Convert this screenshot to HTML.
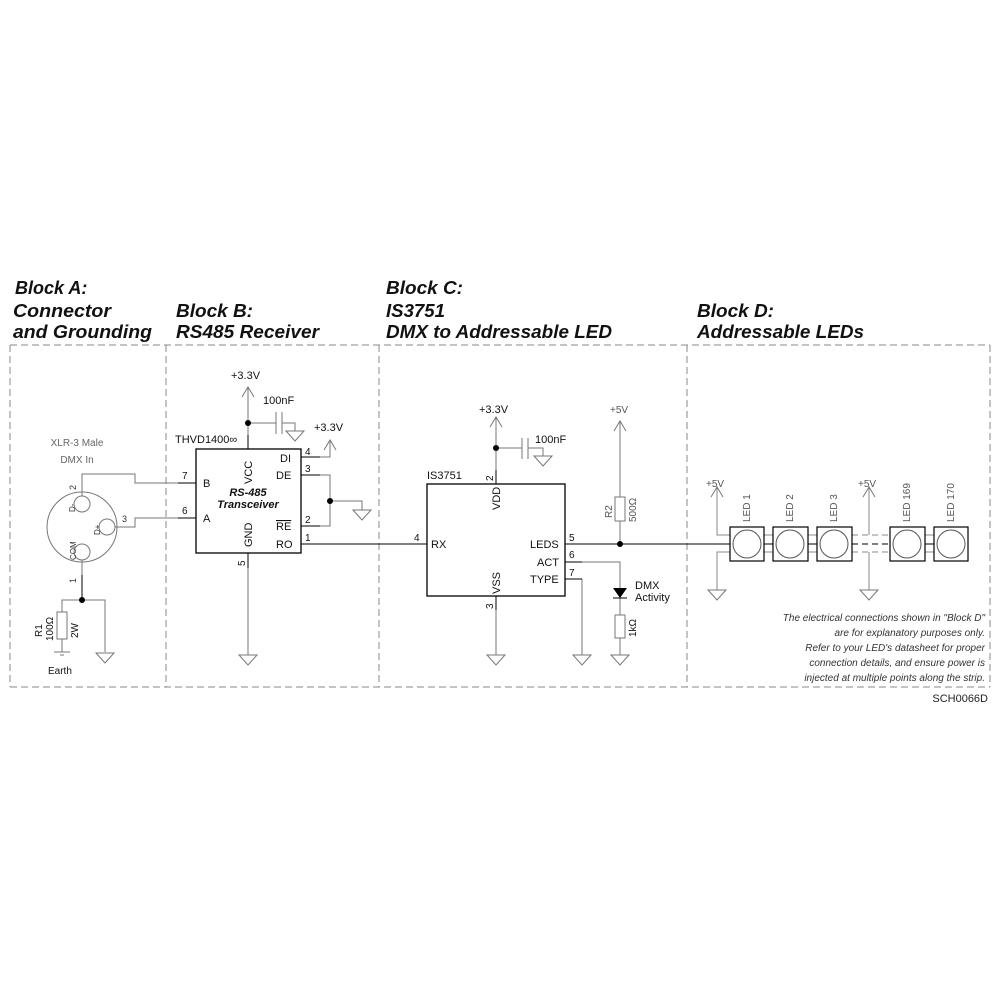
<!DOCTYPE html>
<html><head><meta charset="utf-8"><style>html,body{margin:0;padding:0;background:#fff}svg{display:block}</style></head><body>
<svg width="1000" height="1000" viewBox="0 0 1000 1000" xmlns="http://www.w3.org/2000/svg" font-family="Liberation Sans, sans-serif">
<defs>
<g id="gnd"><line x1="0" y1="0" x2="0" y2="0"/><path d="M-9,0 L9,0 L0,10 Z" fill="none" stroke="#777" stroke-width="1"/></g>
<g id="up"><path d="M-6,10 L0,0 L6,10" fill="none" stroke="#777" stroke-width="1"/></g>
</defs>
<rect width="1000" height="1000" fill="#fff"/>
<!-- Titles -->
<g font-weight="bold" font-style="italic" font-size="18" fill="#111">
<text x="15" y="294">Block A:</text>
<text x="13" y="317" textLength="98" lengthAdjust="spacingAndGlyphs">Connector</text>
<text x="13" y="338" textLength="139" lengthAdjust="spacingAndGlyphs">and Grounding</text>
<text x="176" y="317" textLength="77" lengthAdjust="spacingAndGlyphs">Block B:</text>
<text x="176" y="338" textLength="143" lengthAdjust="spacingAndGlyphs">RS485 Receiver</text>
<text x="386" y="294" textLength="77" lengthAdjust="spacingAndGlyphs">Block C:</text>
<text x="386" y="317" textLength="59" lengthAdjust="spacingAndGlyphs">IS3751</text>
<text x="386" y="338" textLength="226" lengthAdjust="spacingAndGlyphs">DMX to Addressable LED</text>
<text x="697" y="317" textLength="77" lengthAdjust="spacingAndGlyphs">Block D:</text>
<text x="697" y="338" textLength="167" lengthAdjust="spacingAndGlyphs">Addressable LEDs</text>
</g>
<!-- dashed frame -->
<g stroke="#888" stroke-width="1" stroke-dasharray="7,4" fill="none">
<line x1="10" y1="345" x2="990" y2="345"/>
<line x1="10" y1="687" x2="990" y2="687"/>
<line x1="10" y1="345" x2="10" y2="687"/>
<line x1="166" y1="345" x2="166" y2="687"/>
<line x1="379" y1="345" x2="379" y2="687"/>
<line x1="687" y1="345" x2="687" y2="687"/>
<line x1="990" y1="345" x2="990" y2="687"/>
</g>
<text x="988" y="702" font-size="11" text-anchor="end" fill="#222">SCH0066D</text>

<!-- Block A -->
<g fill="none" stroke="#777" stroke-width="1">
<circle cx="82" cy="527" r="35"/>
<circle cx="82" cy="504" r="8"/>
<circle cx="107" cy="527" r="8"/>
<circle cx="82" cy="552" r="8"/>
<polyline points="82,496 82,474 135,474 135,483 196,483"/>
<polyline points="115,527 135,527 135,518 196,518"/>
<polyline points="82,560 82,600 62,600 62,612"/>
<rect x="57" y="612" width="10" height="27"/>
<line x1="62" y1="639" x2="62" y2="652"/>
<line x1="54" y1="652" x2="70" y2="652"/>
<polyline points="82,600 105,600 105,652"/>
</g>
<g stroke="#000" stroke-width="1">
<line x1="178" y1="483" x2="196" y2="483"/><line x1="178" y1="518" x2="196" y2="518"/>
<line x1="82" y1="575" x2="82" y2="600"/></g>
<line x1="60" y1="655" x2="64" y2="655" stroke="#777"/>
<use href="#gnd" x="105" y="653"/>
<circle cx="82" cy="600" r="3" fill="#000"/>
<g font-size="10" fill="#666" text-anchor="middle">
<text x="77" y="446">XLR-3 Male</text><text x="77" y="463">DMX In</text></g>
<g font-size="9" fill="#333">
<text transform="translate(76,490) rotate(-90)">2</text>
<text x="122" y="522">3</text>
<text transform="translate(76,583) rotate(-90)">1</text>
<text transform="translate(75,512) rotate(-90)" font-size="8">D-</text>
<text transform="translate(100,535) rotate(-90)" font-size="8">D+</text>
<text transform="translate(76,560) rotate(-90)" font-size="8">COM</text>
</g>
<g font-size="10" fill="#111">
<text transform="translate(42,637) rotate(-90)">R1</text>
<text transform="translate(53,641) rotate(-90)">100Ω</text>
<text transform="translate(78,638) rotate(-90)">2W</text>
<text x="48" y="674">Earth</text></g>

<!-- Block B -->
<rect x="196" y="449" width="105" height="104" fill="none" stroke="#000" stroke-width="1.3"/>
<g fill="none" stroke="#777" stroke-width="1">
<line x1="248" y1="388" x2="248" y2="435"/>
<line x1="248" y1="423" x2="276" y2="423"/>
<line x1="276" y1="412" x2="276" y2="434"/><line x1="282" y1="412" x2="282" y2="434"/>
<polyline points="282,423 295,423 295,431"/>
<polyline points="320,457 330,457 330,440"/>
<polyline points="320,475 330,475 330,526 320,526"/>
<polyline points="330,501 362,501 362,510"/>
<line x1="248" y1="568" x2="248" y2="655"/>
</g>
<g stroke="#000" stroke-width="1">
<line x1="248" y1="435" x2="248" y2="449"/><line x1="301" y1="457" x2="320" y2="457"/>
<line x1="301" y1="475" x2="320" y2="475"/><line x1="301" y1="526" x2="320" y2="526"/>
<line x1="301" y1="544" x2="427" y2="544"/><line x1="248" y1="553" x2="248" y2="568"/>
</g>
<use href="#up" x="248" y="387"/><use href="#gnd" x="295" y="431"/>
<use href="#up" x="330" y="440"/><use href="#gnd" x="362" y="510"/><use href="#gnd" x="248" y="655"/>
<circle cx="248" cy="423" r="3" fill="#000"/><circle cx="330" cy="501" r="3" fill="#000"/>
<g font-size="11" fill="#111">
<text x="231" y="379">+3.3V</text><text x="263" y="404">100nF</text>
<text x="314" y="431">+3.3V</text><text x="175" y="443">THVD1400∞</text>
<text x="280" y="462">DI</text><text x="276" y="479">DE</text>
<text x="276" y="530"><tspan text-decoration="overline">RE</tspan></text>
<text x="276" y="548">RO</text>
<text x="203" y="487">B</text><text x="203" y="522">A</text>
<text transform="translate(252,484) rotate(-90)">VCC</text>
<text transform="translate(252,547) rotate(-90)">GND</text>
<text x="182" y="479" font-size="10">7</text><text x="182" y="514" font-size="10">6</text>
<text x="305" y="455" font-size="10">4</text><text x="305" y="472" font-size="10">3</text>
<text x="305" y="523" font-size="10">2</text><text x="305" y="541" font-size="10">1</text>
<text transform="translate(245,566) rotate(-90)" font-size="10">5</text>
</g>
<g font-size="11" font-weight="bold" font-style="italic" fill="#111" text-anchor="middle">
<text x="248" y="496">RS-485</text><text x="248" y="508">Transceiver</text></g>

<!-- Block C -->
<rect x="427" y="484" width="138" height="112" fill="none" stroke="#000" stroke-width="1.3"/>
<g fill="none" stroke="#777" stroke-width="1">
<line x1="496" y1="418" x2="496" y2="470"/>
<line x1="496" y1="448" x2="522" y2="448"/>
<line x1="522" y1="438" x2="522" y2="459"/><line x1="528" y1="438" x2="528" y2="459"/>
<polyline points="528,448 543,448 543,456"/>
<line x1="496" y1="610" x2="496" y2="655"/>
<polyline points="582,579 582,655"/>
<line x1="620" y1="422" x2="620" y2="497"/>
<rect x="615" y="497" width="10" height="24"/>
<line x1="620" y1="521" x2="620" y2="544"/>
<polyline points="582,562 620,562 620,615"/>
<rect x="615" y="615" width="10" height="23"/>
<line x1="620" y1="638" x2="620" y2="655"/>
</g>
<path d="M613,588 L627,588 L620,598 Z" fill="#000"/><line x1="613" y1="598" x2="627" y2="598" stroke="#000"/>
<g stroke="#000" stroke-width="1">
<line x1="496" y1="470" x2="496" y2="484"/><line x1="496" y1="596" x2="496" y2="610"/>
<line x1="565" y1="544" x2="730" y2="544"/><line x1="565" y1="562" x2="582" y2="562"/>
<line x1="565" y1="579" x2="582" y2="579"/></g>
<use href="#up" x="496" y="417"/><use href="#gnd" x="543" y="456"/><use href="#up" x="620" y="421"/>
<use href="#gnd" x="496" y="655"/><use href="#gnd" x="582" y="655"/><use href="#gnd" x="620" y="655"/>
<circle cx="496" cy="448" r="3" fill="#000"/><circle cx="620" cy="544" r="3" fill="#000"/>
<g font-size="11" fill="#111">
<text x="479" y="413">+3.3V</text><text x="535" y="443">100nF</text>
<text x="610" y="413" font-size="10" fill="#555">+5V</text>
<text x="427" y="479">IS3751</text>
<text x="431" y="548">RX</text>
<text x="530" y="548">LEDS</text><text x="537" y="566">ACT</text><text x="530" y="583">TYPE</text>
<text transform="translate(500,510) rotate(-90)">VDD</text>
<text transform="translate(500,594) rotate(-90)">VSS</text>
<text x="414" y="541" font-size="10">4</text>
<text x="569" y="541" font-size="10">5</text><text x="569" y="558" font-size="10">6</text><text x="569" y="576" font-size="10">7</text>
<text transform="translate(493,481) rotate(-90)" font-size="10">2</text>
<text transform="translate(493,609) rotate(-90)" font-size="10">3</text>
<text x="635" y="589">DMX</text><text x="635" y="601">Activity</text>
<text transform="translate(636,637) rotate(-90)" font-size="10">1kΩ</text>
</g>
<g font-size="10" fill="#555">
<text transform="translate(612,518) rotate(-90)">R2</text>
<text transform="translate(636,522) rotate(-90)">500Ω</text></g>

<!-- Block D -->
<g stroke="#888" stroke-width="1" fill="none">
<polyline points="717,488 717,535 730,535"/><polyline points="717,590 717,552 730,552"/>
<line x1="764" y1="535" x2="773" y2="535"/><line x1="764" y1="552" x2="773" y2="552"/>
<line x1="808" y1="535" x2="817" y2="535"/><line x1="808" y1="552" x2="817" y2="552"/>
<line x1="925" y1="535" x2="934" y2="535"/><line x1="925" y1="552" x2="934" y2="552"/>
<line x1="869" y1="488" x2="869" y2="535"/><line x1="869" y1="552" x2="869" y2="590"/>
<g stroke-dasharray="6,4"><line x1="852" y1="535" x2="890" y2="535"/><line x1="852" y1="552" x2="890" y2="552"/></g>
</g>
<g stroke="#000" stroke-dasharray="6,4"><line x1="852" y1="544" x2="890" y2="544"/></g>
<g stroke="#000"><line x1="764" y1="544" x2="773" y2="544"/><line x1="808" y1="544" x2="817" y2="544"/><line x1="925" y1="544" x2="934" y2="544"/></g>
<use href="#up" x="717" y="487"/><use href="#gnd" x="717" y="590"/>
<use href="#up" x="869" y="487"/><use href="#gnd" x="869" y="590"/>
<g fill="#fff" stroke="#000" stroke-width="1.2">
<rect x="730" y="527" width="34" height="34"/><rect x="773" y="527" width="35" height="34"/>
<rect x="817" y="527" width="35" height="34"/><rect x="890" y="527" width="35" height="34"/>
<rect x="934" y="527" width="34" height="34"/></g>
<g fill="none" stroke="#555" stroke-width="1">
<circle cx="747" cy="544" r="14"/><circle cx="790" cy="544" r="14"/><circle cx="834" cy="544" r="14"/>
<circle cx="907" cy="544" r="14"/><circle cx="951" cy="544" r="14"/></g>
<g font-size="10" fill="#555">
<text x="706" y="487">+5V</text><text x="858" y="487">+5V</text>
<text transform="translate(750,522) rotate(-90)">LED 1</text>
<text transform="translate(793,522) rotate(-90)">LED 2</text>
<text transform="translate(837,522) rotate(-90)">LED 3</text>
<text transform="translate(910,522) rotate(-90)">LED 169</text>
<text transform="translate(954,522) rotate(-90)">LED 170</text></g>
<g font-size="10" font-style="italic" fill="#333" text-anchor="end">
<text x="985" y="621">The electrical connections shown in "Block D"</text>
<text x="985" y="636">are for explanatory purposes only.</text>
<text x="985" y="651">Refer to your LED's datasheet for proper</text>
<text x="985" y="666">connection details, and ensure power is</text>
<text x="985" y="681">injected at multiple points along the strip.</text></g>
</svg>
</body></html>
